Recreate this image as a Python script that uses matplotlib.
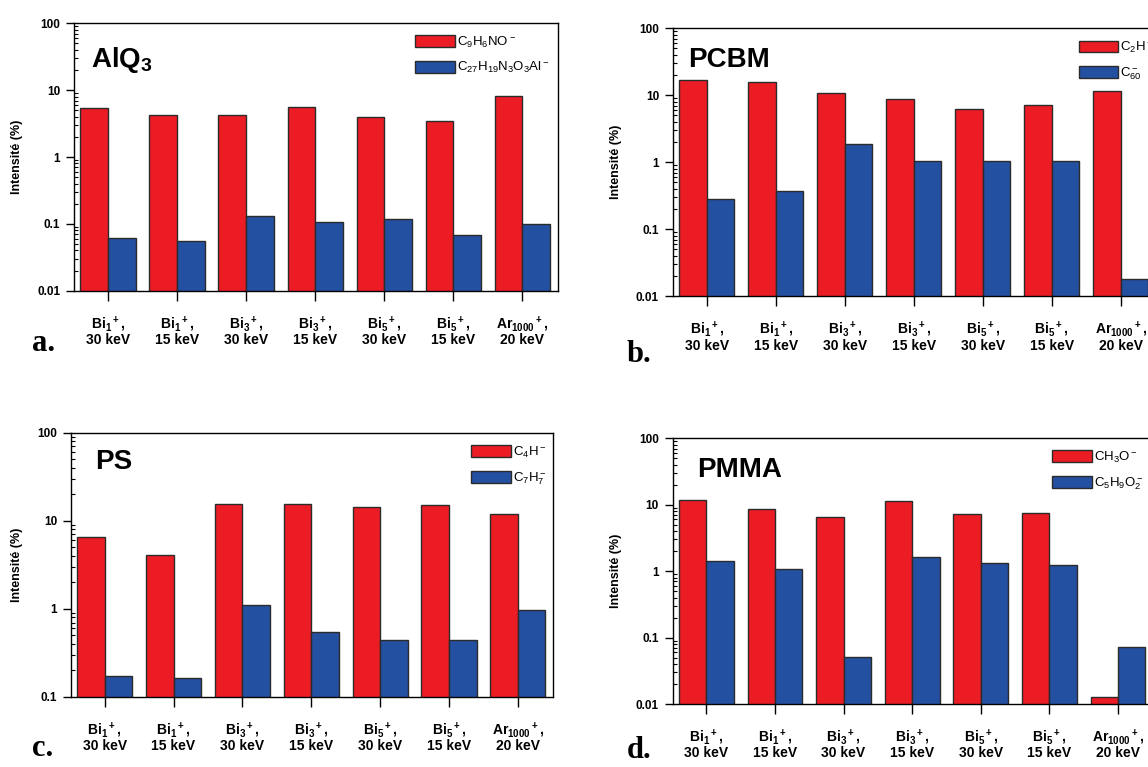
"""Fragment vs molecular ion intensities for four materials (a-d)."""

import matplotlib
matplotlib.use("Agg")
import matplotlib.pyplot as plt
import numpy as np
from matplotlib.ticker import FixedLocator, LogLocator, NullFormatter

plt.rcParams.update({
    "font.family": "Liberation Sans",
    "mathtext.fontset": "custom",
    "mathtext.rm": "Liberation Sans:bold",
    "mathtext.it": "Liberation Sans:bold",
    "mathtext.bf": "Liberation Sans:bold",
    "mathtext.sf": "Liberation Sans",
    "axes.linewidth": 1.0,
})

groups = [
    "Bi$_1{}^+$,\n30 keV", "Bi$_1{}^+$,\n15 keV",
    "Bi$_3{}^+$,\n30 keV", "Bi$_3{}^+$,\n15 keV",
    "Bi$_5{}^+$,\n30 keV", "Bi$_5{}^+$,\n15 keV",
    "Ar$_{1000}{}^+$,\n20 keV",
]

alq3_frag = [5.4, 4.3, 4.3, 5.6, 4.0, 3.5, 8.2]
alq3_mol = [0.061, 0.055, 0.13, 0.105, 0.117, 0.068, 0.098]
pcbm_frag = [16.7, 15.8, 10.9, 8.8, 6.2, 7.1, 11.7]
pcbm_mol = [0.284, 0.379, 1.9, 1.06, 1.03, 1.03, 0.0179]
ps_frag = [6.6, 4.1, 15.5, 15.5, 14.3, 15.1, 12.0]
ps_mol = [0.175, 0.166, 1.11, 0.543, 0.445, 0.445, 0.966]
pmma_frag = [11.9, 8.6, 6.5, 11.5, 7.2, 7.5, 0.0126]
pmma_mol = [1.43, 1.08, 0.051, 1.61, 1.34, 1.25, 0.073]

RED = "#ec1c24"
BLUE = "#2450a2"
EDGE = "#2b2b2b"

panels = [
    # rect, title, title pos, frag, mol, labels, ymin, legend anchor, letter, letter pos
    ([0.0645, 0.621, 0.4213, 0.3486], "AlQ$_3$", (0.035, 0.838), alq3_frag, alq3_mol,
     (r"$\mathsf{C_9H_6NO^-}$", r"$\mathsf{C_{27}H_{19}N_3O_3Al^-}$"), 0.01, (0.705, 0.958),
     "a.", (0.028, 0.543)),
    ([0.5862, 0.6137, 0.4207, 0.3494], "PCBM", (0.031, 0.857), pcbm_frag, pcbm_mol,
     (r"$\mathsf{C_2H^-}$", r"$\mathsf{C_{60}^-}$"), 0.01, (0.840, 0.956),
     "b.", (0.546, 0.528)),
    ([0.0618, 0.0913, 0.4199, 0.3446], "PS", (0.051, 0.861), ps_frag, ps_mol,
     (r"$\mathsf{C_4H^-}$", r"$\mathsf{C_7H_7^-}$"), 0.1, (0.830, 0.955),
     "c.", (0.028, 0.014)),
    ([0.586, 0.0821, 0.4183, 0.3464], "PMMA", (0.05, 0.855), pmma_frag, pmma_mol,
     (r"$\mathsf{CH_3O^-}$", r"$\mathsf{C_5H_9O_2^-}$"), 0.01, (0.790, 0.958),
     "d.", (0.546, 0.012)),
]


def draw_panel(fig, rect, title, title_pos, frag, mol, labels, ymin, leg_anchor):
    ax = fig.add_axes(rect)
    x = np.arange(len(groups))
    w = 0.4
    ax.bar(x - w / 2, frag, w, color=RED, edgecolor=EDGE, linewidth=1.0, label=labels[0])
    ax.bar(x + w / 2, mol, w, color=BLUE, edgecolor=EDGE, linewidth=1.0, label=labels[1])
    ax.set_yscale("log")
    ax.set_ylim(ymin, 100)
    ax.set_xlim(-0.49, len(groups) - 0.49)

    major = [v for v in [0.01, 0.1, 1, 10, 100] if v >= ymin]
    ax.yaxis.set_major_locator(FixedLocator(major))
    ax.set_yticklabels([f"{v:g}" for v in major], fontsize=8.5, fontweight="bold")
    ax.yaxis.set_minor_locator(LogLocator(base=10, subs=np.arange(2, 10)))
    ax.yaxis.set_minor_formatter(NullFormatter())
    ax.tick_params(axis="y", which="major", direction="out", length=6, width=1, pad=4)
    ax.tick_params(axis="y", which="minor", direction="in", length=3, width=0.8)

    ax.set_xticks(x)
    ax.set_xticklabels(groups, fontsize=10, fontweight="bold", linespacing=0.95)
    ax.tick_params(axis="x", direction="out", length=7, width=1, pad=10)

    ax.set_ylabel("Intensité (%)", fontsize=9, fontweight="bold", labelpad=10)
    ax.text(title_pos[0], title_pos[1], title, transform=ax.transAxes,
            fontsize=20, fontweight="bold", va="baseline", ha="left")

    ax.legend(loc="upper left", bbox_to_anchor=leg_anchor, frameon=False,
              fontsize=9.5, handlelength=3.0, handleheight=1.0, handletextpad=0.15,
              labelspacing=0.8, borderpad=0, borderaxespad=0)
    return ax


def main() -> None:
    fig = plt.figure(figsize=(11.48, 7.67), dpi=100)
    for rect, title, tpos, frag, mol, labels, ymin, anchor, letter, lpos in panels:
        draw_panel(fig, rect, title, tpos, frag, mol, labels, ymin, anchor)
        fig.text(lpos[0], lpos[1], letter, family="Liberation Serif",
                 fontweight="bold", fontsize=22, va="baseline")
    fig.savefig("out.png", dpi=100)
    plt.close(fig)


if __name__ == "__main__":
    main()
